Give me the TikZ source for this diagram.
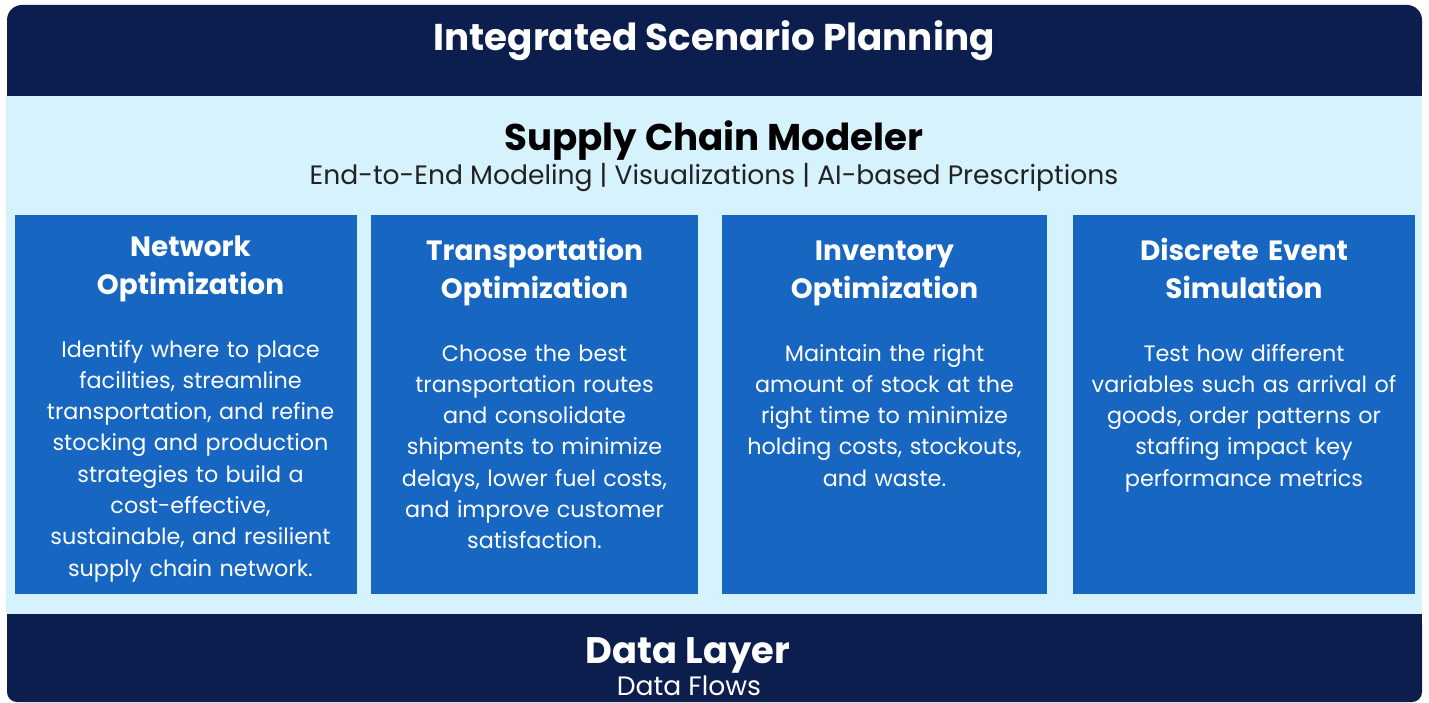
\documentclass[tikz,border=0pt]{standalone}
\usepackage{fontspec}
\setmainfont{Poppins}
\definecolor{navy}{HTML}{0C1E4D}
\definecolor{pale}{HTML}{D6F3FD}
\definecolor{boxblue}{HTML}{1766C2}
\definecolor{ink}{HTML}{000000}
\definecolor{subink}{HTML}{222222}
\tikzset{
  band/.style={fill=navy, draw=none},
  card/.style={fill=boxblue, draw=none},
  cardtitle/.style={anchor=base, inner sep=0pt, text=white, align=center, text width=#1, font=\bfseries\fontsize{27.9}{38.5}\selectfont},
  cardbody/.style={anchor=base, inner sep=0pt, text=white, align=center, text width=#1, font=\fontsize{22.3}{31.3}\selectfont},
}
\begin{document}
\begin{tikzpicture}[x=1pt,y=-1pt]
\useasboundingbox (0,0) rectangle (1429,703);
\fill[white] (0,0) rectangle (1429,703);
% bands
\fill[pale] (6,96) rectangle (1422,614);
\fill[band, rounded corners=15pt] (7,5) rectangle (1422,96);
\fill[band] (7,50) rectangle (1422,96);
\fill[band, rounded corners=10pt] (7,614) rectangle (1422,702);
\fill[band] (7,614) rectangle (1422,660);
% titles
\node[anchor=base, inner sep=0pt, text=white, font=\bfseries\fontsize{37.3}{40}\selectfont] (title) at (714,50.5) {Integrated Scenario Planning};
\node[anchor=base, inner sep=0pt, text=ink, font=\bfseries\fontsize{37.2}{40}\selectfont] (scm) at (714,151) {Supply Chain Modeler};
\node[anchor=base, inner sep=0pt, text=subink, font=\fontsize{26.6}{30}\selectfont] (scmsub) at (714,185) {End-to-End Modeling | Visualizations | AI-based Prescriptions};
% cards
\fill[card] (15,215) rectangle (357,594);
\fill[card] (371,215) rectangle (698,594);
\fill[card] (722,215) rectangle (1047,594);
\fill[card] (1073,215) rectangle (1415,594);
\node[cardtitle=330pt] (t1) at (190.5,256.5) {Network\\Optimization};
\node[cardtitle=320pt] (t2) at (534.5,260.5) {Transportation\\Optimization};
\node[cardtitle=320pt] (t3) at (884.5,260.5) {Inventory\\Optimization};
\node[cardtitle=330pt] (t4) at (1244,260.5) {Discrete Event\\Simulation};
\node[cardbody=330pt] (b1) at (190.5,357) {Identify where to place\\facilities, streamline\\transportation, and refine\\stocking and production\\strategies to build a\\cost-effective,\\sustainable, and resilient\\supply chain network.};
\node[cardbody=320pt] (b2) at (534.5,361) {Choose the best\\transportation routes\\and consolidate\\shipments to minimize\\delays, lower fuel costs,\\and improve customer\\satisfaction.};
\node[cardbody=320pt] (b3) at (884.5,361) {Maintain the right\\amount of stock at the\\right time to minimize\\holding costs, stockouts,\\and waste.};
\node[cardbody=330pt] (b4) at (1244,361) {Test how different\\variables such as arrival of\\goods, order patterns or\\staffing impact key\\performance metrics};
% data layer
\node[anchor=base, inner sep=0pt, text=white, font=\bfseries\fontsize{36.9}{40}\selectfont] (dl) at (688,663) {Data Layer};
\node[anchor=base, inner sep=0pt, text=white, font=\fontsize{26.6}{30}\selectfont] (df) at (689,695) {Data Flows};
\end{tikzpicture}
\end{document}
